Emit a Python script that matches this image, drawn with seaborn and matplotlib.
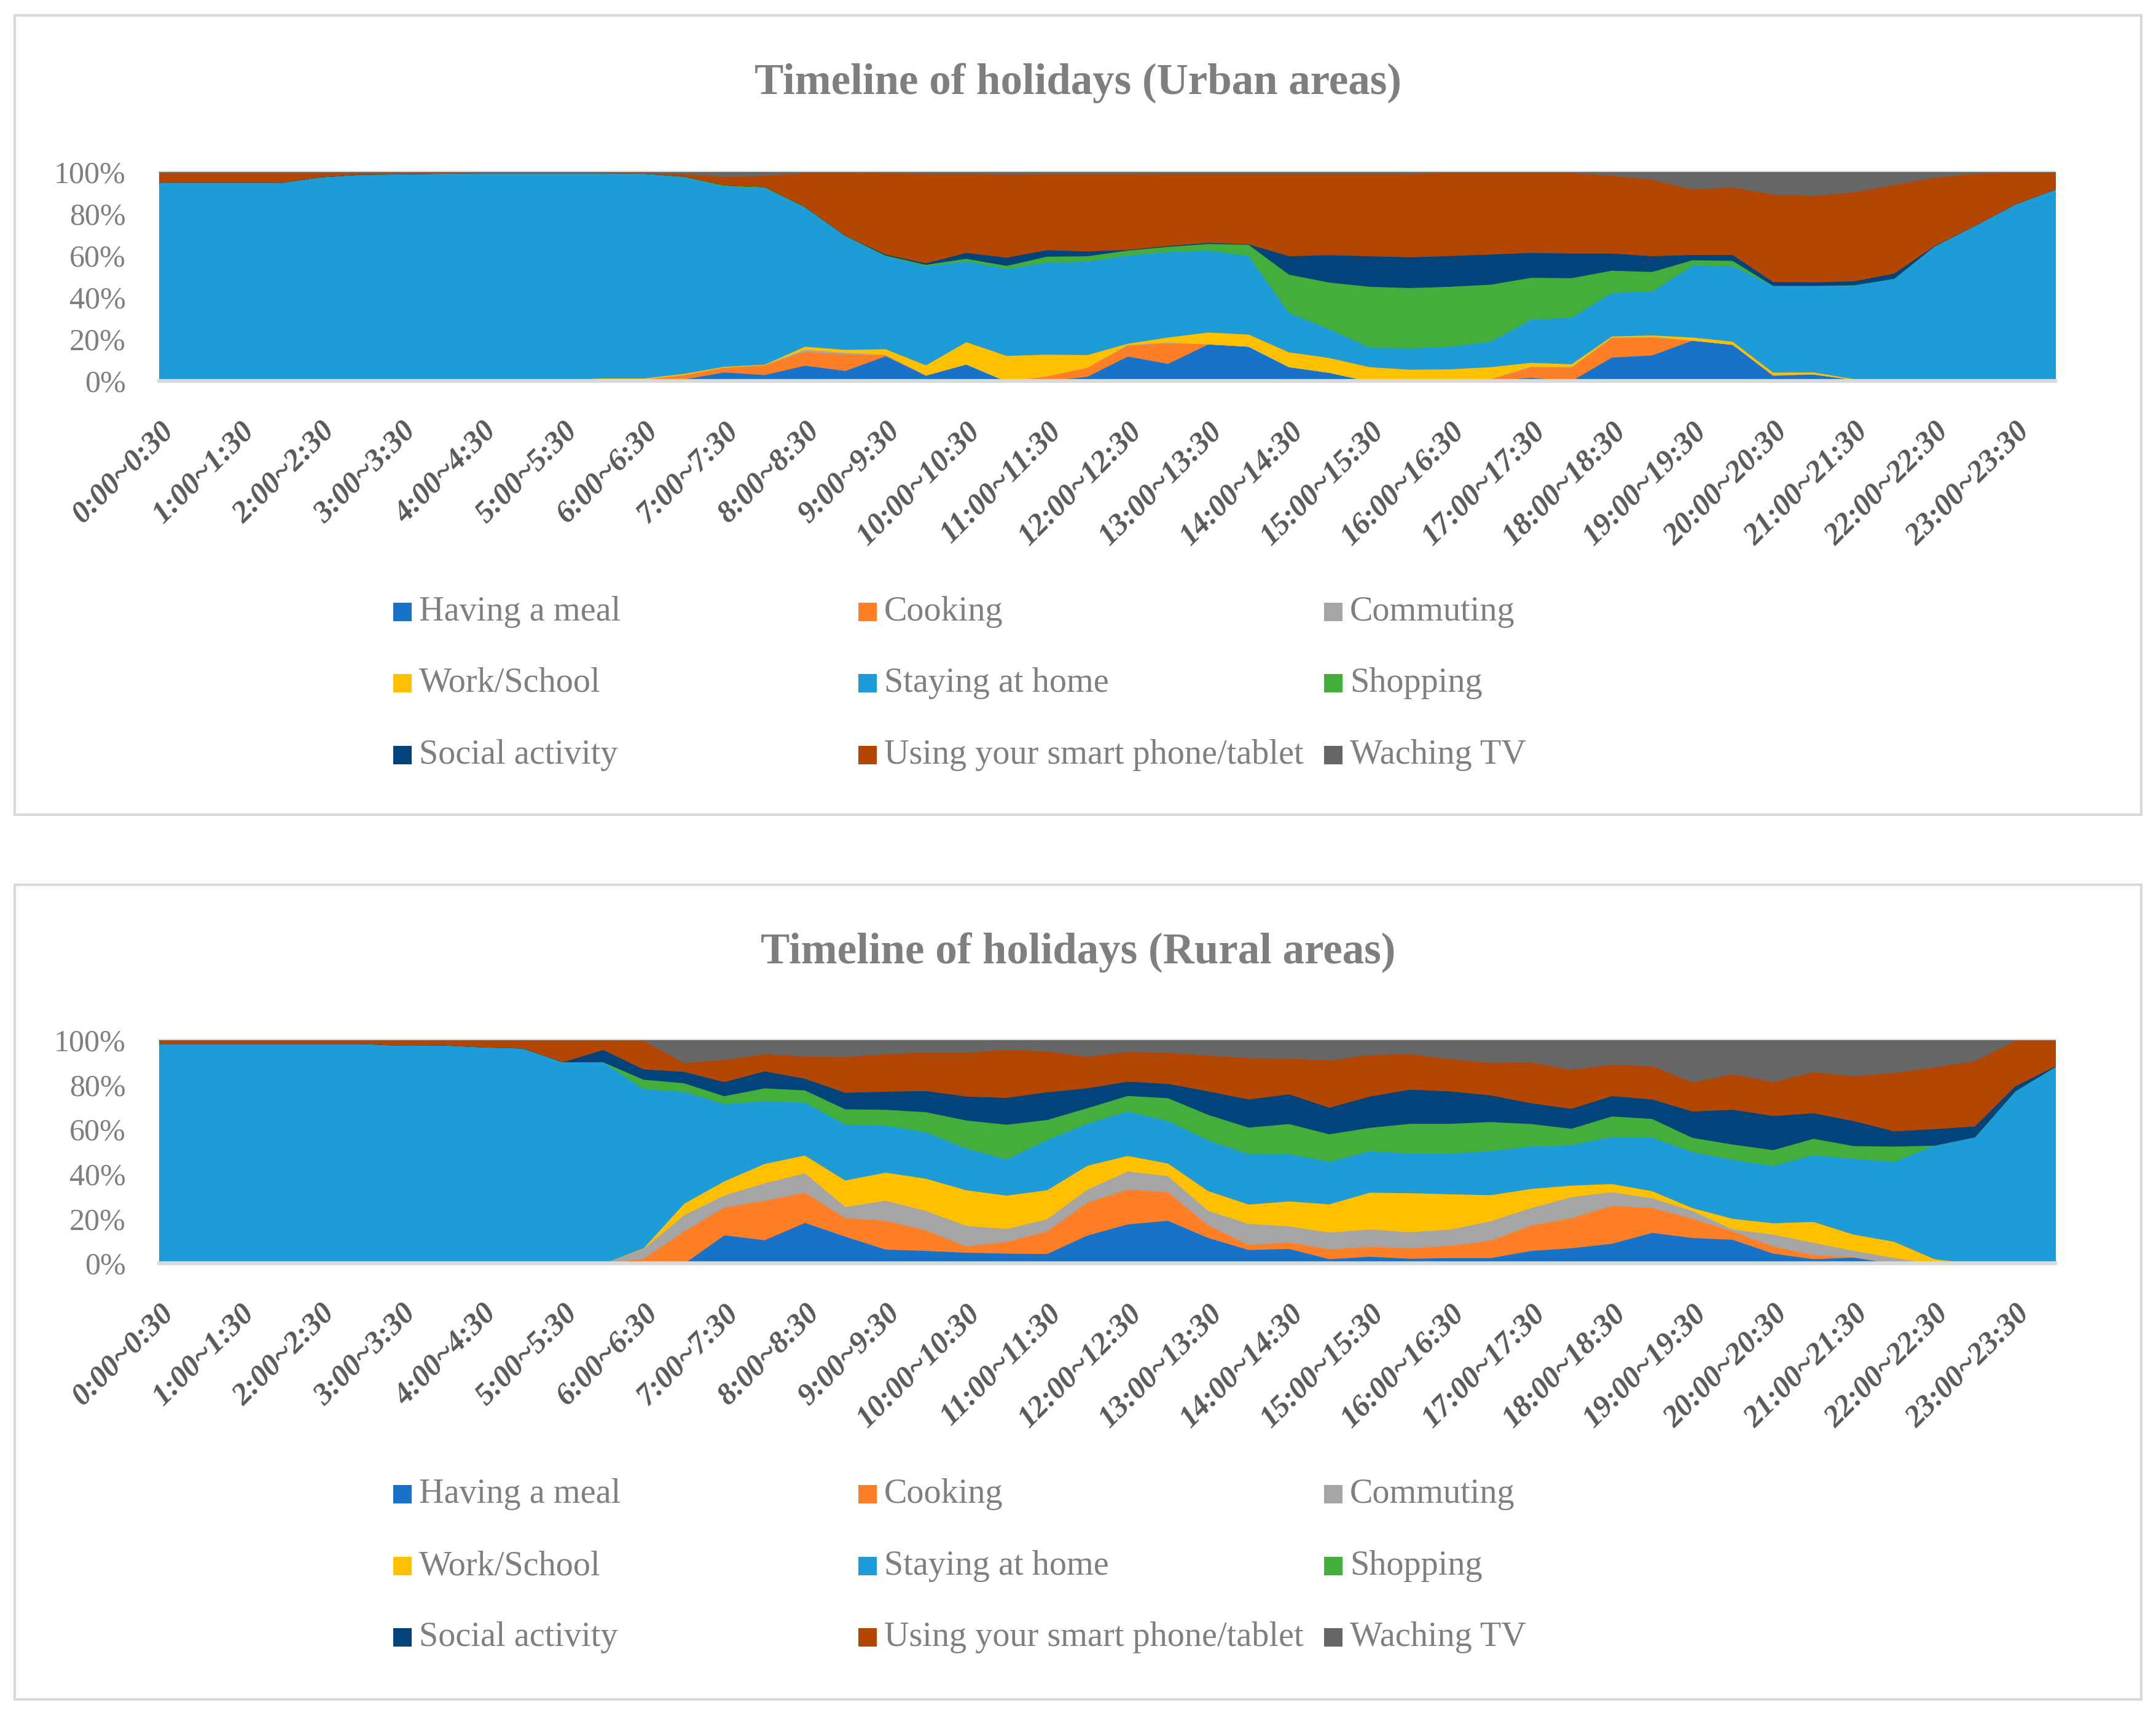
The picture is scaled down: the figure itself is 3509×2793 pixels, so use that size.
import numpy as np
import pandas as pd
import matplotlib
matplotlib.use("Agg")
import matplotlib.pyplot as plt
from matplotlib.patches import Rectangle
import seaborn as sns

# ---------------- data ----------------
slots = ["0:00~0:30", "0:30~1:00", "1:00~1:30", "1:30~2:00", "2:00~2:30", "2:30~3:00",
         "3:00~3:30", "3:30~4:00", "4:00~4:30", "4:30~5:00", "5:00~5:30", "5:30~6:00",
         "6:00~6:30", "6:30~7:00", "7:00~7:30", "7:30~8:00", "8:00~8:30", "8:30~9:00",
         "9:00~9:30", "9:30~10:00", "10:00~10:30", "10:30~11:00", "11:00~11:30", "11:30~12:00",
         "12:00~12:30", "12:30~13:00", "13:00~13:30", "13:30~14:00", "14:00~14:30", "14:30~15:00",
         "15:00~15:30", "15:30~16:00", "16:00~16:30", "16:30~17:00", "17:00~17:30", "17:30~18:00",
         "18:00~18:30", "18:30~19:00", "19:00~19:30", "19:30~20:00", "20:00~20:30", "20:30~21:00",
         "21:00~21:30", "21:30~22:00", "22:00~22:30", "22:30~23:00", "23:00~23:30", "23:30~24:00"]

activities = ["Having a meal", "Cooking", "Commuting", "Work/School", "Staying at home",
              "Shopping", "Social activity", "Using your smart phone/tablet", "Waching TV"]

# Urban areas
urban_meal = [0, 0, 0, 0, 0, 0, 0, 0, 0, 0, 0, 0, 0.3, 1.0, 4.4, 3.1, 7.6, 5.1, 12.1, 2.9,
              8.2, 0, 0.2, 2.3, 12.0, 8.5, 17.8, 16.7, 6.9, 4.2, 0, 0, 0.2, 0.3, 1.8, 0.2,
              11.5, 12.5, 19.6, 17.6, 2.7, 3.4, 0.8, 0, 0, 0, 0, 0]
urban_cook = [0, 0, 0, 0, 0, 0, 0, 0, 0, 0, 0, 0.2, 0.7, 2.1, 2.3, 4.7, 6.6, 7.8, 0.5, 0,
              0, 0, 2.3, 4.3, 5.2, 9.8, 0, 0, 0, 0, 0, 0, 0, 0.9, 4.9, 6.5,
              9.3, 8.6, 0, 0, 0.4, 0, 0, 0, 0, 0, 0, 0]
urban_comm = [0, 0, 0, 0, 0, 0, 0, 0, 0, 0, 0, 0, 0, 0, 0, 0, 1.0, 0.8, 0.2, 0,
              0, 0, 0, 0, 0.3, 0.3, 0, 0, 0, 0, 0, 0, 0, 0, 0.4, 0.2,
              0.2, 0.3, 0, 0, 0, 0, 0, 0, 0, 0, 0, 0]
urban_work = [0.5, 0.5, 0.5, 0.5, 0.5, 0.5, 0.5, 0.5, 0.5, 0.5, 0.8, 1.3, 0.5, 0.6, 0.4, 0.3,
              1.5, 1.5, 2.7, 4.9, 10.7, 12.3, 10.4, 6.1, 0.6, 2.5, 5.7, 5.8, 7.1, 7.1, 6.9, 5.7,
              5.7, 5.7, 1.9, 1.4, 0.6, 0.7, 1.5, 1.5, 1.2, 1.0, 0.4, 0.2, 0, 0, 1.0, 0.5]
urban_home = [94.6, 94.6, 94.6, 94.6, 97.3, 98.5, 98.7, 99.0, 99.2, 99.2, 98.9, 98.2, 98.0, 94.1,
              86.3, 84.5, 66.6, 54.4, 44.5, 47.4, 38.5, 41.6, 44.0, 44.7, 42.2, 40.9, 39.2, 37.6,
              18.8, 13.7, 9.3, 10.2, 10.8, 12.2, 20.6, 22.3, 20.8, 21.0, 34.5, 36.1, 41.5, 41.4,
              44.9, 49.0, 64.7, 74.5, 83.8, 91.4]
urban_shop = [0, 0, 0, 0, 0, 0, 0, 0, 0, 0, 0, 0, 0, 0.3, 0.5, 0.5, 0.3, 0.2, 0.3, 0.7,
              1.4, 1.5, 2.9, 2.6, 2.4, 2.5, 3.2, 5.4, 18.4, 22.4, 29.2, 28.9, 28.7, 27.3, 20.1, 18.9,
              10.7, 9.4, 2.5, 2.6, 0, 0, 0, 0, 0, 0, 0, 0]
urban_social = [0, 0, 0, 0, 0, 0, 0, 0, 0, 0, 0, 0, 0, 0, 0, 0, 0, 0, 0.5, 0.7,
                2.8, 3.9, 3.1, 2.3, 0.3, 0.4, 0.5, 0.2, 8.8, 13.1, 14.6, 14.7, 14.7, 14.4, 11.9, 11.8,
                8.2, 7.5, 2.5, 2.8, 1.9, 1.7, 1.9, 2.5, 0.2, 0, 0, 0]
urban_phone = [4.6, 4.6, 4.6, 4.6, 1.9, 0.7, 0.5, 0.2, 0, 0, 0, 0, 0.2, 1.3, 3.9, 5.4,
               16.2, 30.0, 38.9, 42.9, 37.9, 39.7, 36.3, 36.9, 36.2, 34.5, 33.1, 33.8, 39.5, 39.0,
               39.5, 40.0, 39.7, 39.0, 38.2, 38.5, 37.2, 36.6, 31.3, 32.3, 41.8, 41.4, 42.5, 42.4,
               32.6, 25.0, 15.0, 7.9]
urban_tv = [0.3, 0.3, 0.3, 0.3, 0.3, 0.3, 0.3, 0.3, 0.3, 0.3, 0.3, 0.3, 0.3, 0.6, 2.2, 1.5,
            0.2, 0.2, 0.3, 0.5, 0.5, 1.0, 0.8, 0.8, 0.8, 0.6, 0.5, 0.5, 0.5, 0.5, 0.5, 0.5,
            0.2, 0.2, 0.2, 0.2, 1.5, 3.4, 8.1, 7.1, 10.5, 11.1, 9.5, 5.9, 2.5, 0.5, 0.2, 0.2]

# Rural areas
rural_meal = [0, 0, 0, 0, 0, 0, 0, 0, 0, 0, 0, 0, 0, 0, 12.8, 10.6, 18.4, 12.2, 6.4, 5.8,
              5.0, 4.6, 4.4, 12.7, 17.7, 19.3, 11.6, 6.2, 6.7, 2.1, 3.2, 2.3, 2.6, 2.6, 5.8, 7.0,
              9.0, 13.9, 11.6, 10.8, 4.6, 2.1, 2.8, 0, 0, 0, 0, 0]
rural_cook = [0, 0, 0, 0, 0, 0, 0, 0, 0, 0, 0, 0, 2.3, 14.5, 12.5, 17.7, 13.5, 8.3, 12.9, 9.2,
              2.8, 5.3, 10.1, 14.8, 15.6, 12.8, 5.6, 2.3, 2.9, 4.4, 4.4, 4.7, 5.5, 7.8, 11.4, 13.5,
              17.0, 11.1, 8.6, 3.7, 3.2, 1.8, 0.2, 0, 0, 0, 0, 0]
rural_comm = [0, 0, 0, 0, 0, 0, 0, 0, 0, 0, 0, 0, 4.4, 7.3, 5.3, 7.8, 8.7, 5.0, 9.0, 8.7,
              9.2, 5.7, 5.5, 5.8, 8.1, 7.2, 6.5, 9.4, 7.2, 7.5, 7.8, 7.2, 7.3, 8.7, 7.8, 9.4,
              6.1, 4.4, 3.5, 0.9, 5.3, 5.5, 2.8, 2.6, 0, 0, 0, 0]
rural_work = [0, 0, 0, 0, 0, 0, 0, 0, 0, 0, 0, 0, 0.3, 5.1, 6.4, 8.7, 8.0, 11.9, 12.6, 14.5,
              16.0, 15.0, 13.0, 10.7, 7.0, 5.7, 8.9, 8.7, 11.2, 12.7, 16.5, 17.5, 15.8, 11.7, 8.6, 5.2,
              3.7, 3.2, 1.3, 4.8, 5.1, 9.4, 7.3, 7.3, 2.1, 0, 0, 0]
rural_home = [98.6, 98.6, 98.6, 98.6, 98.6, 98.6, 97.8, 98.0, 97.1, 96.6, 90.4, 90.4, 71.3, 50.2,
              34.6, 28.1, 23.7, 25.0, 21.0, 20.8, 18.7, 16.2, 22.5, 18.8, 19.9, 19.0, 22.7, 22.6,
              21.2, 19.0, 18.6, 17.7, 18.2, 19.8, 19.0, 18.1, 21.1, 23.9, 25.1, 26.4, 25.7, 29.9,
              34.0, 35.8, 50.9, 56.7, 77.3, 88.3]
rural_shop = [0, 0, 0, 0, 0, 0, 0, 0, 0, 0, 0, 0, 4.3, 3.9, 3.6, 5.8, 5.5, 6.9, 7.2, 9.0,
              12.6, 15.6, 9.0, 7.0, 7.0, 10.3, 11.5, 11.9, 13.5, 12.4, 10.5, 13.4, 13.4, 13.0, 10.1, 7.4,
              9.2, 8.5, 6.4, 6.9, 7.1, 7.4, 5.7, 6.9, 0, 0, 0, 0]
rural_social = [0, 0, 0, 0, 0, 0, 0, 0, 0, 0, 0, 5.5, 4.6, 5.1, 6.3, 7.6, 5.2, 7.4, 8.1, 9.5,
                10.7, 12.0, 12.4, 8.9, 6.4, 6.4, 10.5, 12.6, 13.3, 11.9, 14.0, 15.3, 14.5, 11.9, 9.3, 8.9,
                9.1, 8.7, 11.8, 15.6, 15.3, 11.4, 11.2, 6.8, 7.4, 4.9, 2.3, 0.3]
rural_phone = [1.4, 1.4, 1.4, 1.4, 1.4, 1.4, 2.2, 2.0, 2.9, 3.4, 9.6, 4.1, 12.8, 3.9, 9.9, 7.7,
               9.9, 16.0, 16.8, 17.3, 19.6, 21.6, 18.3, 14.1, 13.3, 13.9, 16.1, 18.5, 16.0, 21.1,
               18.7, 15.9, 14.4, 14.5, 18.2, 17.5, 14.1, 14.9, 13.0, 15.9, 15.2, 18.4, 20.2, 26.2,
               27.7, 29.3, 20.4, 11.4]
rural_tv = [0, 0, 0, 0, 0, 0, 0, 0, 0, 0, 0, 0, 0, 10.0, 8.6, 6.0, 7.1, 7.3, 6.0, 5.2,
            5.4, 4.0, 4.8, 7.2, 5.0, 5.4, 6.6, 7.8, 8.0, 8.9, 6.3, 6.0, 8.3, 10.0, 9.8, 13.0,
            10.7, 11.4, 18.7, 15.0, 18.5, 14.1, 15.8, 14.4, 11.9, 9.1, 0, 0]

colors = ["#1872C7", "#FF7F27", "#A5A5A5", "#FFC000", "#1E9CD8",
          "#43AE3C", "#01437A", "#B34600", "#666666"]

urban = pd.DataFrame(dict(zip(activities, [urban_meal, urban_cook, urban_comm, urban_work, urban_home,
                                           urban_shop, urban_social, urban_phone, urban_tv])), index=slots)
rural = pd.DataFrame(dict(zip(activities, [rural_meal, rural_cook, rural_comm, rural_work, rural_home,
                                           rural_shop, rural_social, rural_phone, rural_tv])), index=slots)

# ---------------- style ----------------
sns.set_theme(style="white")
plt.rcParams["font.family"] = ["Liberation Serif", "DejaVu Serif"]
palette = sns.color_palette(colors)

W, H = 3509, 2793
fig = plt.figure(figsize=(W / 300, H / 300), dpi=300)

LBL = "#7F7F7F"
XLBL = "#595959"
LINE = "#D9D9D9"


def draw_panel(df, title, box, ax_rect, title_y, legend_rows):
    # panel border
    fig.patches.append(Rectangle((box[0], box[1]), box[2], box[3], transform=fig.transFigure,
                                 fill=False, edgecolor=LINE, linewidth=1.0, zorder=0))
    fig.text(0.5, title_y, title, ha="center", va="center", fontsize=17,
             fontweight="bold", color=LBL)
    ax = fig.add_axes(ax_rect)
    pct = df.div(df.sum(axis=1), axis=0) * 100
    x = np.arange(len(df))
    polys = ax.stackplot(x, *[pct[c].values for c in activities], colors=palette, linewidth=0)
    for p, c in zip(polys, palette):
        p.set_edgecolor(c)
        p.set_linewidth(0.3)
    ax.axhline(100, color=LINE, lw=0.9, clip_on=False, zorder=0)
    ax.set_xlim(0, len(df) - 1)
    ax.set_ylim(0, 100)
    ax.set_yticks(np.arange(0, 101, 20))
    ax.set_yticklabels([f"{v}%" for v in range(0, 101, 20)], fontsize=12, color=LBL)
    ax.set_xticks(x)
    ax.set_xticklabels([s if i % 2 == 0 else "" for i, s in enumerate(df.index)],
                       rotation=45, ha="right", va="top", rotation_mode="anchor",
                       fontsize=12, fontweight="bold", fontstyle="italic", color=XLBL)
    ax.tick_params(axis="y", length=0, pad=13)
    ax.tick_params(axis="x", length=4, width=1.2, color=LINE, direction="out", pad=10)
    for s in ["top", "right", "left"]:
        ax.spines[s].set_visible(False)
    ax.spines["bottom"].set_color(LINE)
    ax.spines["bottom"].set_linewidth(1.5)
    ax.spines["bottom"].set_zorder(5)
    ax.grid(False)
    ax.set_facecolor("none")

    # legend laid out as in the original (3 equal-width columns, row-wise order)
    col_x = [0.1824, 0.3981, 0.6141]
    mw, mh = 30 / W, 30 / H
    for k, (name, c) in enumerate(zip(activities, palette)):
        r, cc = divmod(k, 3)
        yc = legend_rows[r]
        fig.patches.append(Rectangle((col_x[cc], yc - mh / 2), mw, mh, transform=fig.transFigure,
                                     facecolor=c, edgecolor="none"))
        fig.text(col_x[cc] + 42 / W, yc, name, ha="left", va="center", fontsize=13.5, color=LBL)
    return ax


draw_panel(urban, "Timeline of holidays (Urban areas)",
           (24 / W, 1 - 1326 / H, 1 - 48 / W, (1326 - 25) / H),
           [259 / W, 1 - 620 / H, (3345 - 259) / W, (620 - 280) / H],
           1 - 135 / H, [1 - 996 / H, 1 - 1112 / H, 1 - 1229 / H])

draw_panel(rural, "Timeline of holidays (Rural areas)",
           (24 / W, 1 - 2766 / H, 1 - 48 / W, (2766 - 1440) / H),
           [259 / W, 1 - 2056 / H, (3345 - 259) / W, (2056 - 1693) / H],
           1 - 1550 / H, [1 - 2432 / H, 1 - 2549 / H, 1 - 2665 / H])

fig.savefig("out.png", dpi=300, facecolor="white")
